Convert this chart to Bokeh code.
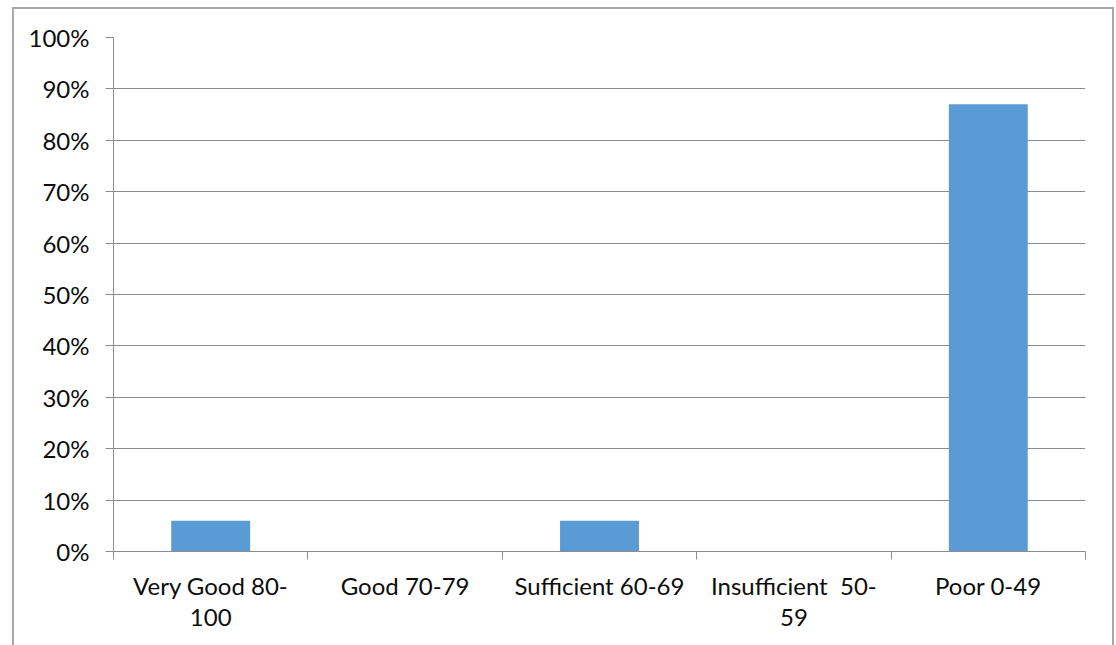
from bokeh.plotting import figure
from bokeh.models import Range1d, FixedTicker, NumeralTickFormatter
from bokeh.embed import file_html
from bokeh.resources import INLINE

# Grade bands and share of students in each
categories = ["Very Good 80-\n100", "Good 70-79", "Sufficient 60-69", "Insufficient\u00a0 50-\n59", "Poor 0-49"]
shares = [0.06, 0.0, 0.06, 0.0, 0.87]
y_ticks = [0.0, 0.1, 0.2, 0.3, 0.4, 0.5, 0.6, 0.7, 0.8, 0.9, 1.0]

GRID = "#8c8c8c"
FONT = "Lato"
TEXT = "#0d0d0d"

x_centers = [i + 0.5 for i in range(len(categories))]
x_bounds = [float(i) for i in range(len(categories) + 1)]

p = figure(
    frame_width=972, frame_height=514,
    min_border_left=99, min_border_right=27, min_border_top=28, min_border_bottom=98,
    x_range=Range1d(0, len(categories)), y_range=Range1d(0, 1),
    output_backend="svg", toolbar_location=None, tools="",
)
p.margin = (7, 0, 0, 12)
p.styles = {"border": "2px solid #a8a8a8"}
p.background_fill_color = "white"
p.border_fill_color = "white"
p.outline_line_color = None

p.vbar(x=x_centers, top=shares, width=0.406, fill_color="#5b9bd5", line_color=None)

# x axis: labels centred on each band, tick marks on band boundaries
xa = p.xaxis[0]
xa.ticker = FixedTicker(ticks=x_centers, minor_ticks=x_bounds)
xa.major_label_overrides = {x: c for x, c in zip(x_centers, categories)}
xa.major_tick_out = 0
xa.major_tick_in = 0
xa.minor_tick_out = 8
xa.minor_tick_in = 0
xa.minor_tick_line_color = GRID
xa.axis_line_color = GRID
xa.major_label_text_font = FONT
xa.major_label_text_font_size = "24px"
xa.major_label_text_color = TEXT
xa.major_label_text_line_height = 1.1
xa.major_label_standoff = 11

ya = p.yaxis[0]
ya.ticker = FixedTicker(ticks=y_ticks)
ya.formatter = NumeralTickFormatter(format="0%")
ya.major_tick_out = 8
ya.major_tick_in = 0
ya.minor_tick_out = 0
ya.minor_tick_in = 0
ya.major_tick_line_color = GRID
ya.axis_line_color = GRID
ya.major_label_text_font = FONT
ya.major_label_text_font_size = "24px"
ya.major_label_text_color = TEXT
ya.major_label_standoff = 16

p.xgrid.grid_line_color = None
p.ygrid.grid_line_color = GRID
p.ygrid.grid_line_width = 1

open("out.html", "w").write(file_html(p, INLINE))
